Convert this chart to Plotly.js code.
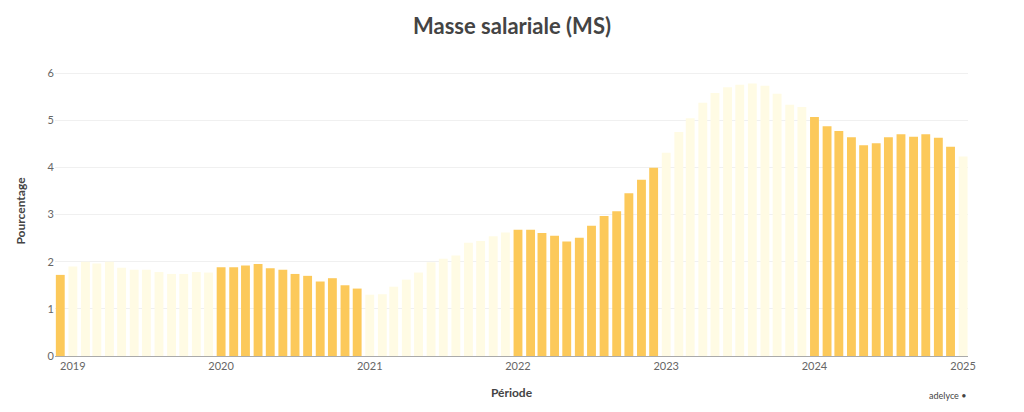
<!DOCTYPE html>
<html>
<head>
<meta charset="utf-8">
<script src="https://cdn.plot.ly/plotly-3.0.1.min.js"></script>
<style>html,body{margin:0;padding:0;background:#fff;}#chart{width:1024px;height:412px;}</style>
</head>
<body>
<div id="chart"></div>
<script>
const months = [
  "2018-12-01",
  "2019-01-01","2019-02-01","2019-03-01","2019-04-01","2019-05-01","2019-06-01","2019-07-01","2019-08-01","2019-09-01","2019-10-01","2019-11-01","2019-12-01",
  "2020-01-01","2020-02-01","2020-03-01","2020-04-01","2020-05-01","2020-06-01","2020-07-01","2020-08-01","2020-09-01","2020-10-01","2020-11-01","2020-12-01",
  "2021-01-01","2021-02-01","2021-03-01","2021-04-01","2021-05-01","2021-06-01","2021-07-01","2021-08-01","2021-09-01","2021-10-01","2021-11-01","2021-12-01",
  "2022-01-01","2022-02-01","2022-03-01","2022-04-01","2022-05-01","2022-06-01","2022-07-01","2022-08-01","2022-09-01","2022-10-01","2022-11-01","2022-12-01",
  "2023-01-01","2023-02-01","2023-03-01","2023-04-01","2023-05-01","2023-06-01","2023-07-01","2023-08-01","2023-09-01","2023-10-01","2023-11-01","2023-12-01",
  "2024-01-01","2024-02-01","2024-03-01","2024-04-01","2024-05-01","2024-06-01","2024-07-01","2024-08-01","2024-09-01","2024-10-01","2024-11-01","2024-12-01",
  "2025-01-01"
];
const msValues = [
  1.72,
  1.90,2.00,1.96,2.00,1.87,1.83,1.83,1.78,1.74,1.74,1.78,1.77,
  1.88,1.88,1.92,1.95,1.86,1.83,1.74,1.70,1.58,1.65,1.50,1.43,
  1.30,1.31,1.47,1.62,1.77,1.99,2.06,2.13,2.40,2.44,2.54,2.62,
  2.68,2.68,2.61,2.55,2.43,2.51,2.76,2.97,3.07,3.45,3.74,3.99,
  4.31,4.75,5.04,5.37,5.58,5.70,5.75,5.78,5.73,5.56,5.33,5.28,
  5.07,4.87,4.77,4.64,4.47,4.51,4.64,4.70,4.65,4.70,4.63,4.44,
  4.23
];
const yearTicks = ["2019-01-01","2020-01-01","2021-01-01","2022-01-01","2023-01-01","2024-01-01","2025-01-01"];
const yearLabels = ["2019","2020","2021","2022","2023","2024","2025"];

const darkColor = "#FCC95A";
const lightColor = "#FFFBE4";
const colors = months.map(m => (parseInt(m.slice(0,4)) % 2 === 0) ? darkColor : lightColor);

const FONT = "Lato, 'Open Sans', sans-serif";

Plotly.newPlot("chart", [{
  type: "bar",
  x: months,
  y: msValues,
  marker: {color: colors, line: {width: 0}},
  hoverinfo: "x+y"
}], {
  width: 1024, height: 412,
  margin: {l: 55, r: 56, t: 66, b: 56},
  paper_bgcolor: "#fff", plot_bgcolor: "#fff",
  bargap: 0.22,
  showlegend: false,
  font: {family: FONT, color: "#666"},
  title: {text: "<b>Masse salariale (MS)</b>", x: 0.5, xanchor: "center", y: 0.935, yanchor: "middle",
          font: {family: FONT, size: 22, color: "#444"}},
  xaxis: {
    type: "date",
    range: ["2018-11-18", "2025-01-13"],
    tickvals: yearTicks, ticktext: yearLabels,
    showgrid: false, zeroline: false,
    showline: true, linecolor: "#aaa", linewidth: 1,
    ticks: "", tickfont: {size: 11, color: "#666"},
    title: {text: "<b>Période</b>", standoff: 17, font: {size: 12, color: "#444"}}
  },
  yaxis: {
    range: [0, 6.15],
    tickvals: [0,1,2,3,4,5,6],
    showgrid: true, gridcolor: "#f0f0f0", gridwidth: 1,
    zeroline: false, showline: false,
    ticks: "", tickfont: {size: 11, color: "#666"},
    title: {text: "<b>Pourcentage</b>", standoff: 19, font: {size: 12, color: "#444"}}
  },
  annotations: [{
    text: "adelyce •", xref: "paper", yref: "paper", x: 1.0, y: -0.11,
    xanchor: "right", yanchor: "top", showarrow: false,
    font: {size: 9, color: "#444", family: FONT}
  }]
}, {displayModeBar: false, staticPlot: true});
</script>
</body>
</html>
